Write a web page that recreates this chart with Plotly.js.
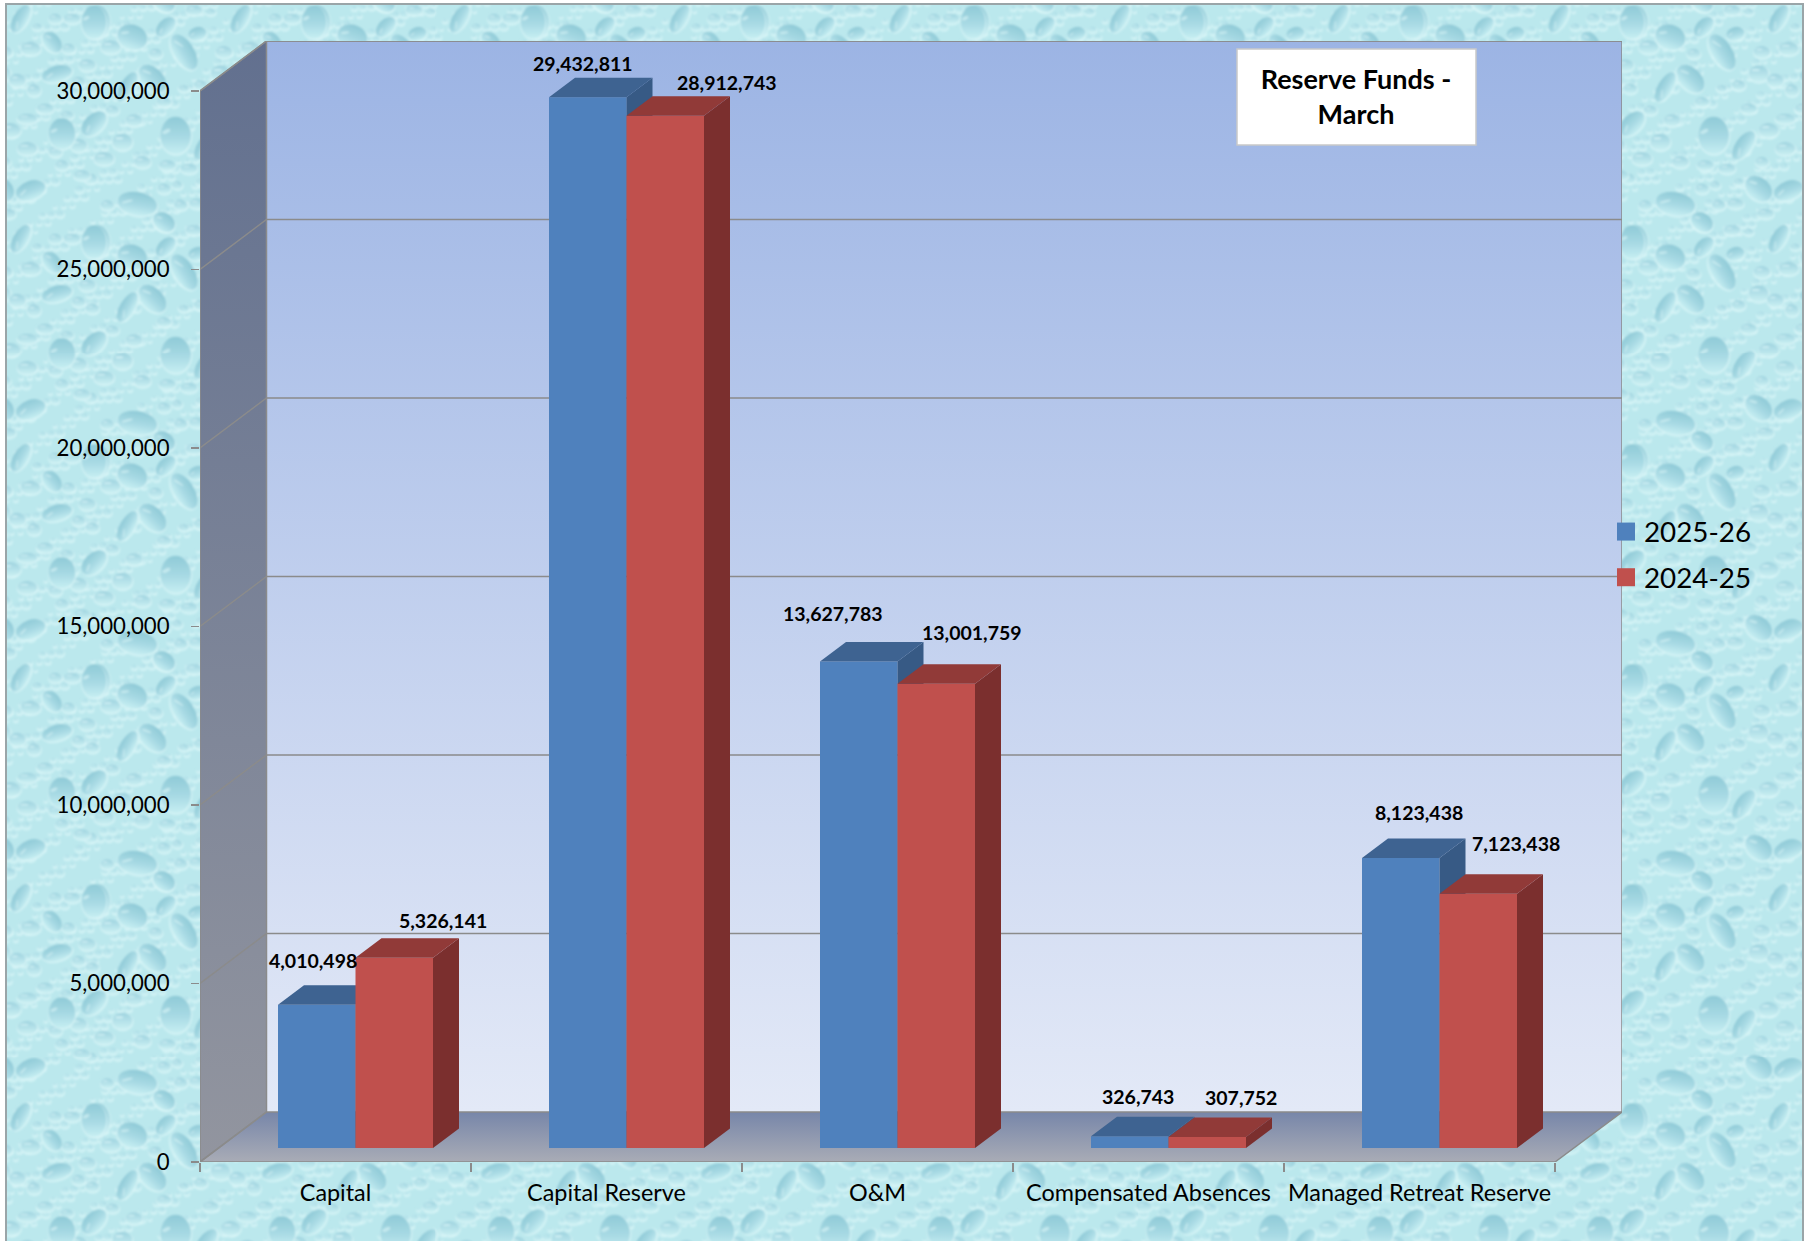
<!DOCTYPE html>
<html>
<head>
<meta charset="utf-8">
<script src="https://cdn.plot.ly/plotly-3.0.1.min.js"></script>
<style>
html,body{margin:0;padding:0;background:#fff;overflow:hidden}
#frame{position:absolute;left:5px;top:3px;width:1795px;height:1260px;border:2px solid #9aa5a8;box-sizing:content-box}
#chart{position:absolute;left:0;top:0;width:1809px;height:1241px}
</style>
</head>
<body>
<div id="frame"></div>
<div id="chart"></div>
<script>
// ---------- chart values ----------
const categories = ["Capital", "Capital Reserve", "O&M", "Compensated Absences", "Managed Retreat Reserve"];
const series2526 = [4010498, 29432811, 13627783, 326743, 8123438];
const series2425 = [5326141, 28912743, 13001759, 307752, 7123438];
const seriesNames = ["2025-26", "2024-25"];
const yTicks = [0, 5000000, 10000000, 15000000, 20000000, 25000000, 30000000];
const titleLines = ["Reserve Funds -", "March"];

// ---------- hand placed data label nudges (px) ----------
const labelNudgeBlue = [[-4,-44],[-5,-34],[-26,-48],[8,-40],[18,-45]];
const labelNudgeRed  = [[49,-37],[62,-33],[36,-51],[34,-40],[38,-50]];

// ---------- page geometry ----------
const pxX = 271, pxY = 1071/30000000;      // px per category, px per unit
const xMin = -0.5, xMax = xMin + 1422/pxX, yMax = 1121/pxY;
const wallDX = 66.5/pxX, wallDY = 50/pxY;
const barW = 77.5/pxX, barDX = 26/pxX, barDY = 19.5/pxY;
const barOffBlue = (278-335.5)/pxX, barOffRed = barOffBlue + barW;
const floorBase = 14/pxY;
const idx = categories.map((c,i)=>i);

// ---------- water drop texture (tile in zoomed units, /3 = px) ----------
const bigDrops = [
 [40,60,37,50,0],[145,105,46,37,20],[245,75,36,22,-45],[340,95,28,20,-15],[300,150,60,30,58],
 [205,230,50,32,45],[130,255,50,22,-60],[275,400,46,56,0],[365,430,50,24,-55],[410,560,45,33,40],
 [500,565,46,28,-20],[160,605,60,35,10],[240,0,35,27,35],[240,660,35,27,35],[470,50,46,22,-60],
 [30,365,45,28,-45],[564,120,36,24,50],[579,215,46,24,-15],[594,395,40,46,0],[30,720,37,50,0]
];
const midDrops = [
 [410,215,30,25],[500,140,30,20],[420,150,25,18],[215,155,20,15],[80,135,30,20],[115,420,30,25],
 [250,490,25,15],[380,320,25,15],[440,385,30,22],[490,440,30,20],[490,350,30,15],[60,470,30,20],
 [240,300,22,14],[150,355,25,18],[85,325,20,14],[340,605,25,15],[290,610,20,15],[430,635,25,15],
 [70,610,20,15],[10,190,25,18],[25,260,20,15],[175,480,25,18],[315,500,25,15],[420,480,20,15],
 [20,530,20,15],[330,25,25,15],[380,30,15,10],[520,75,15,10],[510,265,20,18],[460,235,25,20],
 [350,250,20,15],[300,260,15,10],[350,540,15,10],[280,550,15,12],[240,560,20,15],[544,320,25,15],
 [609,340,20,12],[594,490,20,15],[574,450,20,15],[624,50,25,15],[574,50,20,15],[614,140,20,15],
 [644,240,20,15],[644,430,25,20],[654,520,25,15]
];
function buildTile(){
  const T = 660, fmt = n => n.toFixed(1);
  let body = '';
  const put = (cx,cy,rx,ry,r,kind) => {
    const m = Math.max(rx,ry)+4;
    for (const ox of [-T,0,T]) for (const oy of [-T,0,T]) {
      const x=cx+ox,y=cy+oy;
      if (x+m<0||x-m>T||y+m<0||y-m>T) continue;
      body += `<g transform="translate(${fmt(x)} ${fmt(y)}) rotate(${r})">`+
        `<ellipse cx="1" cy="3" rx="${rx+3}" ry="${ry+3}" fill="#dcf7f8" fill-opacity=".7"/>`+
        `<ellipse rx="${rx}" ry="${ry}" fill="url(#${kind})"/>`;
      if (kind==='b') body += `<ellipse cx="${fmt(-rx*.45)}" cy="${fmt(-ry*.4)}" rx="${fmt(rx*.28)}" ry="${fmt(ry*.1)}" fill="#e6fbfc" fill-opacity=".5" transform="rotate(-25)"/>`;
      else body += `<ellipse cx="${fmt(-rx*.3)}" cy="${fmt(-ry*.45)}" rx="${fmt(rx*.4)}" ry="${fmt(ry*.14)}" fill="#e2fafb" fill-opacity=".6"/>`;
      body += '</g>';
    }
  };
  // fine speckle, evenly spread with the golden ratio
  for (let i=1;i<=320;i++){
    const x=(i*0.6180339887%1)*T, y=(i*0.7548776662%1)*T, s=4+(i*0.5698402910%1)*9;
    put(x,y,s,s*.75,0,'s');
  }
  midDrops.forEach(d=>put(d[0],d[1],d[2],d[3],0,'m'));
  bigDrops.forEach(d=>put(d[0],d[1],d[2],d[3],d[4],'b'));
  return `<svg xmlns="http://www.w3.org/2000/svg" width="660" height="660" viewBox="0 0 660 660">`+
   `<defs><filter id="f" x="-5%" y="-5%" width="110%" height="110%"><feGaussianBlur stdDeviation="2.4"/></filter>`+
   `<linearGradient id="b" x1="0" y1="0" x2="0" y2="1"><stop offset="0" stop-color="#8fcad7"/><stop offset=".55" stop-color="#a8dae4"/><stop offset="1" stop-color="#c6eef2"/></linearGradient>`+
   `<linearGradient id="m" x1="0" y1="0" x2="0" y2="1"><stop offset="0" stop-color="#9ed3df"/><stop offset="1" stop-color="#cbf0f3"/></linearGradient>`+
   `<linearGradient id="s" x1="0" y1="0" x2="0" y2="1"><stop offset="0" stop-color="#a6dae4"/><stop offset="1" stop-color="#cdf1f4"/></linearGradient></defs>`+
   `<rect width="660" height="660" fill="#bbe8ed"/><g filter="url(#f)">${body}</g></svg>`;
}
const frameEl = document.getElementById('frame');
frameEl.style.backgroundImage = 'url("data:image/svg+xml,'+encodeURIComponent(buildTile())+'")';
frameEl.style.backgroundSize = '219.7px 219.7px';
frameEl.style.backgroundPosition = (82-5)+'px -3px';

// ---------- walls and floor ----------
const noHover = {hoverinfo:'skip', showlegend:false};
const gridColor = '#8b8b8b';
function wall(x,y,low,high){
  return Object.assign({type:'scatter',mode:'none',x,y,fill:'toself',
    fillgradient:{type:'vertical',colorscale:[[0,low],[1,high]]}},noHover);
}
const xBackL = xMin+wallDX, xBackR = xMax, xFrontR = xMin+5;
const traces = [
  wall([xBackL,xBackR,xBackR,xBackL,xBackL],[wallDY,wallDY,30000000+wallDY,30000000+wallDY,wallDY],'#e3e9f7','#9cb4e4'),
  wall([xMin,xBackL,xBackL,xMin,xMin],[0,wallDY,30000000+wallDY,30000000,0],'#92959f','#62708f'),
  wall([xMin,xFrontR,xBackR,xBackL,xMin],[0,0,wallDY,wallDY,0],'#a9acb6','#7786a9')
];
// gridlines follow the tick values across side wall and back wall
const gx=[],gy=[];
yTicks.forEach(v=>{gx.push(xMin,xBackL,xBackR,null);gy.push(v,v+wallDY,v+wallDY,null);});
traces.push(Object.assign({type:'scatter',mode:'lines',x:gx,y:gy,line:{color:gridColor,width:1.5}},noHover));
traces.push(Object.assign({type:'scatter',mode:'lines',
  x:[xMin,xMin,xBackL,xBackR,xBackR,xFrontR,xMin,null,xBackL,xBackL,null,xMin,xBackL],
  y:[0,30000000,30000000+wallDY,30000000+wallDY,wallDY,0,0,null,30000000+wallDY,wallDY,null,0,wallDY],
  line:{color:gridColor,width:1.5}},noHover));

// ---------- bars: front face from a bar trace, depth faces from the same values ----------
function addSeries(values,name,offset,front,topC,sideC,ax,ay){
  traces.push({type:'bar',name,legendgroup:name,x:idx,y:values,base:idx.map(()=>floorBase),width:barW,offset,
    marker:{color:front,line:{width:0}},xaxis:ax,yaxis:ay,hoverinfo:'skip'});
  const tx=[],ty=[],sx=[],sy=[];
  values.forEach((v,i)=>{
    const x0=i+offset,x1=x0+barW,t=v+floorBase;
    tx.push(x0,x0+barDX,x1+barDX,x1,x0,null);
    ty.push(t,t+barDY,t+barDY,t,t,null);
    sx.push(x1,x1+barDX,x1+barDX,x1,x1,null);
    sy.push(floorBase,floorBase+barDY,t+barDY,t,floorBase,null);
  });
  traces.push(Object.assign({type:'scatter',mode:'none',x:sx,y:sy,fill:'toself',fillcolor:sideC,xaxis:ax,yaxis:ay},noHover));
  traces.push(Object.assign({type:'scatter',mode:'none',x:tx,y:ty,fill:'toself',fillcolor:topC,xaxis:ax,yaxis:ay},noHover));
}
addSeries(series2526,seriesNames[0],barOffBlue,'#4f81bd','#3e6391','#375a85','x2','y2');
addSeries(series2425,seriesNames[1],barOffRed,'#c0504d','#913a38','#7b2f2e','x3','y3');

// ---------- data labels ----------
const textFont = 'Lato, "Open Sans", sans-serif';
function labels(values,offset,nudge){
  return values.map((v,i)=>({xref:'x',yref:'y',x:i+offset+barW/2,y:v+floorBase,text:v.toLocaleString('en-US'),
    showarrow:false,xanchor:'center',yanchor:'middle',xshift:nudge[i][0],yshift:-nudge[i][1],
    font:{family:textFont,size:19.5,color:'#000',weight:700}}));
}
const overlayX = a => ({overlaying:'x',range:[xMin,xMax],visible:false,fixedrange:true});
const overlayY = a => ({overlaying:'y',range:[0,yMax],visible:false,fixedrange:true});

const layout = {
  width:1809,height:1241,
  paper_bgcolor:'rgba(0,0,0,0)',plot_bgcolor:'rgba(0,0,0,0)',
  margin:{l:200,r:187,t:41,b:79,pad:0,autoexpand:false},
  barmode:'overlay',
  font:{family:textFont,color:'#000'},
  title:{text:titleLines.join('<br>'),
    xref:'container',yref:'container',x:1356/1809,y:1-89/1241,xanchor:'center',yanchor:'middle',automargin:false,
    font:{family:textFont,size:27,weight:700,color:'#000'}},
  xaxis:{type:'linear',range:[xMin,xMax],tickmode:'array',tickvals:idx,ticktext:categories,ticks:'',showgrid:false,zeroline:false,
    tickfont:{size:23.4,family:textFont},ticklabelstandoff:15,fixedrange:true,automargin:false,
    minor:{tickmode:'array',tickvals:[-0.5,0.5,1.5,2.5,3.5,4.5],ticks:'outside',ticklen:9,tickwidth:1.5,tickcolor:gridColor,showgrid:false}},
  yaxis:{type:'linear',range:[0,yMax],tickmode:'array',tickvals:yTicks,ticktext:yTicks.map(v=>v.toLocaleString('en-US')),
    ticks:'outside',ticklen:8,tickwidth:1.5,tickcolor:gridColor,showgrid:false,zeroline:false,
    tickfont:{size:22.2,family:textFont},ticklabelstandoff:17,fixedrange:true,automargin:false},
  xaxis2:overlayX(),yaxis2:overlayY(),xaxis3:overlayX(),yaxis3:overlayY(),
  legend:{xref:'container',yref:'container',x:1604/1809,y:1-507/1241,xanchor:'left',yanchor:'top',
    bgcolor:'rgba(0,0,0,0)',borderwidth:0,font:{family:textFont,size:27.8,color:'#000'},traceorder:'grouped',tracegroupgap:6.5},
  shapes:[{type:'rect',xref:'paper',yref:'paper',layer:'above',
    x0:(1237-200)/1422,x1:(1476-200)/1422,y0:(1162-145)/1121,y1:(1162-49)/1121,
    fillcolor:'#ffffff',line:{color:'#c9c9c9',width:1.5}}],
  annotations:labels(series2526,barOffBlue,labelNudgeBlue).concat(labels(series2425,barOffRed,labelNudgeRed))
};
Plotly.newPlot('chart',traces,layout,{displayModeBar:false,staticPlot:true}).then(gd=>{
  gd.querySelectorAll('.legend .legendpoints path').forEach(p=>{
    p.setAttribute('transform',(p.getAttribute('transform')||'')+' translate(2,0) scale(1.5)');
  });
});
</script>
</body>
</html>
